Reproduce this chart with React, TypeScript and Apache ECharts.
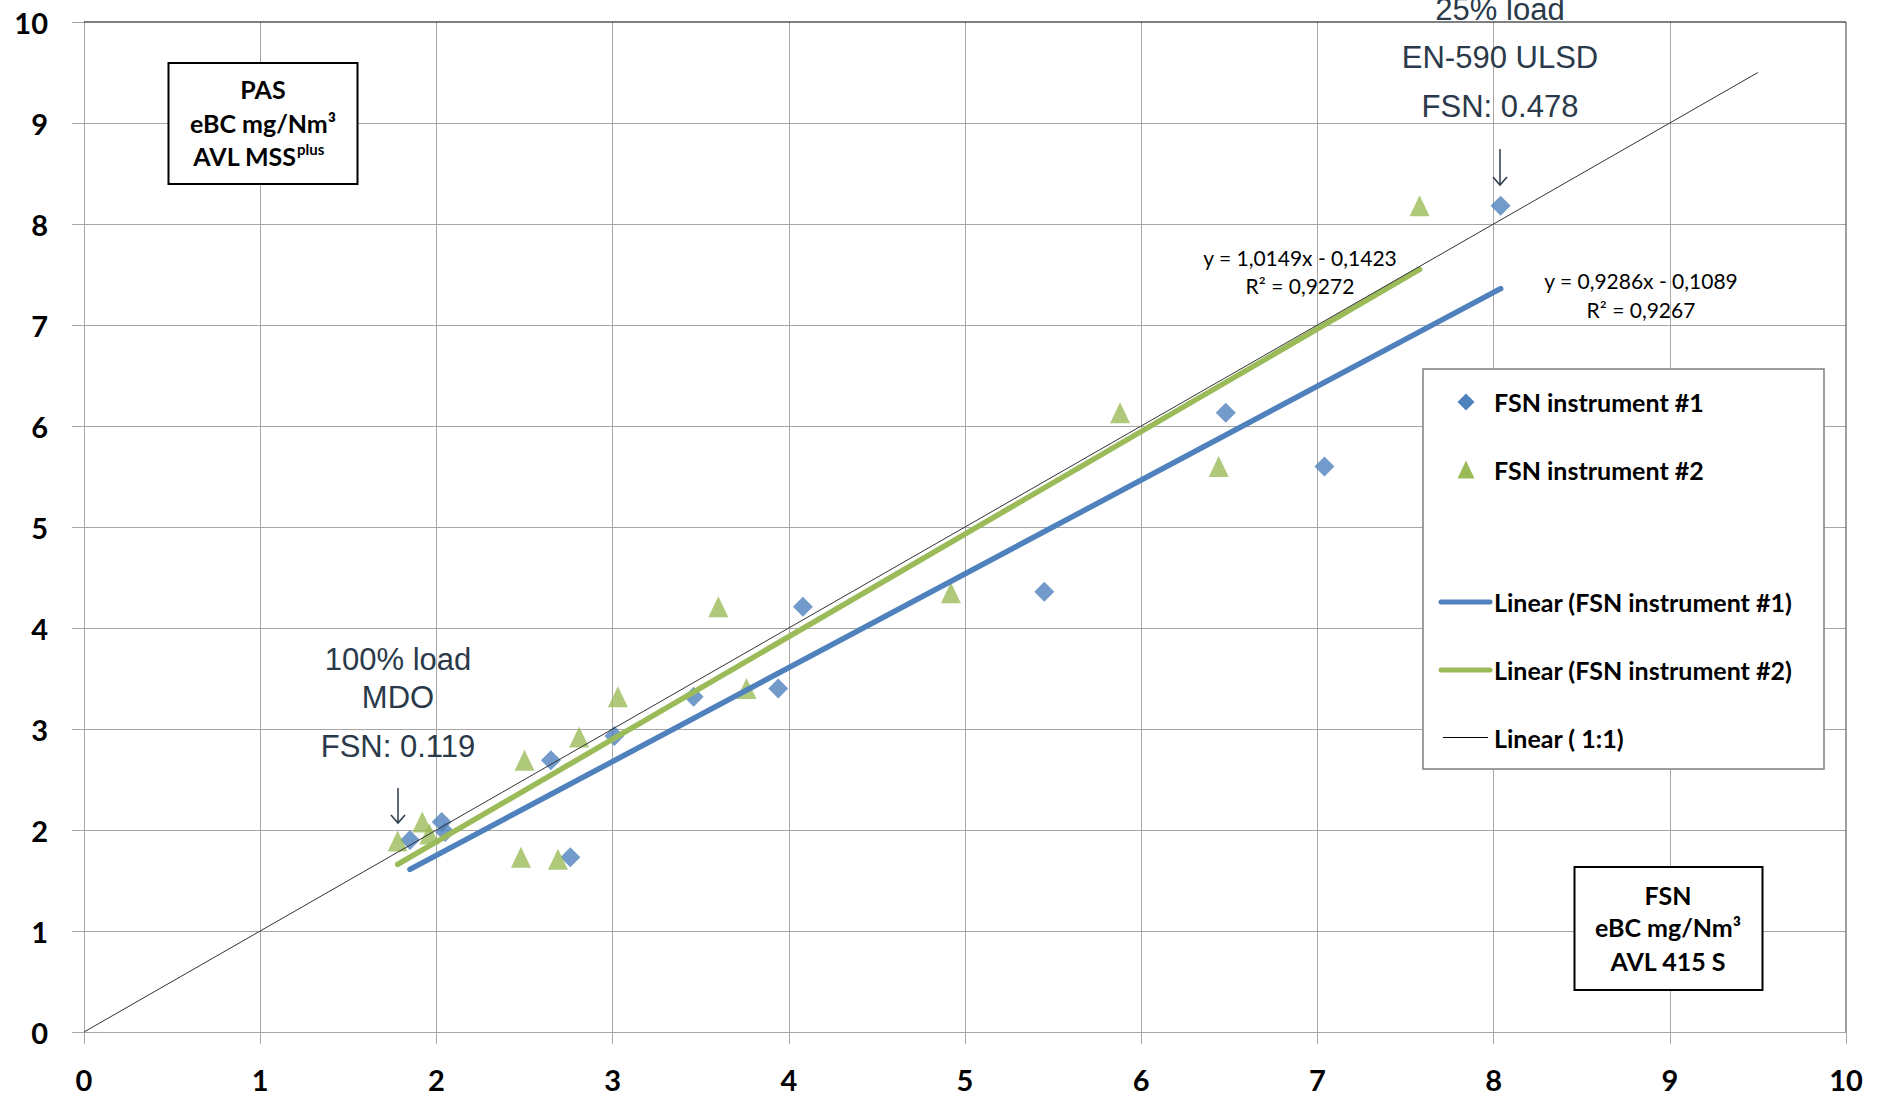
import React, { useEffect, useRef } from 'react';
import * as echarts from 'echarts';

// ---- data ----
const fsn1X = [1.85, 2.03, 2.05, 2.65, 2.76, 3.01, 3.46, 3.94, 4.08, 5.45, 6.48, 7.04, 8.04];
const fsn1Y = [1.90, 2.08, 1.98, 2.69, 1.73, 2.93, 3.32, 3.40, 4.21, 4.36, 6.13, 5.60, 8.18];
const fsn2X = [1.78, 1.92, 1.96, 2.48, 2.50, 2.69, 2.81, 3.03, 3.60, 3.76, 4.92, 5.88, 6.44, 7.58];
const fsn2Y = [1.89, 2.08, 1.96, 1.73, 2.69, 1.71, 2.92, 3.32, 4.21, 3.40, 4.35, 6.13, 5.60, 8.18];
const trend1X = [1.85, 8.04];
const trend1Y = [1.61, 7.36];
const trend2X = [1.78, 7.58];
const trend2Y = [1.66, 7.55];
const oneToOneX = [0, 9.5];
const oneToOneY = [0, 9.5];
const seriesNames = [
  'FSN instrument #1',
  'FSN instrument #2',
  'Linear (FSN instrument #1)',
  'Linear (FSN instrument #2)',
  'Linear ( 1:1)',
];
const eqBlue = ['y = 0,9286x - 0,1089', 'R² = 0,9267'];
const eqGreen = ['y = 1,0149x - 0,1423', 'R² = 0,9272'];
const noteTop = ['25% load', 'EN-590 ULSD', 'FSN: 0.478'];
const noteBottom = ['100% load', 'MDO', 'FSN: 0.119'];
const yBoxLines = ['PAS', 'eBC mg/Nm³', 'AVL MSS', 'plus'];
const xBoxLines = ['FSN', 'eBC mg/Nm³', 'AVL 415 S'];
const axisMin = 0;
const axisMax = 10;
const axisInterval = 1;

const BLUE = '#4F81BD';
const GREEN = '#9BBB59';
const NOTE = '#2b3a4a';
const GRID = '#a6a6a6';

const zip = (xs: number[], ys: number[]) => xs.map((x, i) => [x, ys[i]]);

function txt(x: number, y: number, text: string, font: string, align = 'center', fill = '#000') {
  return {
    type: 'text',
    x,
    y,
    z: 20,
    style: { text, font, fill, align, verticalAlign: 'middle' },
  };
}

function arrow(x: number, y1: number, y2: number) {
  return [
    { type: 'line', z: 20, shape: { x1: x, y1, x2: x, y2 }, style: { stroke: NOTE, lineWidth: 1.5 } },
    {
      type: 'polyline',
      z: 20,
      shape: { points: [[x - 7, y2 - 8], [x, y2], [x + 7, y2 - 8]] },
      style: { stroke: NOTE, lineWidth: 1.5, fill: 'none' },
    },
  ];
}

export default function App() {
  const ref = useRef<HTMLDivElement>(null);

  useEffect(() => {
    if (!ref.current) return;
    const chart = echarts.init(ref.current, undefined, { renderer: 'svg' });

    const noteFont = '31px "Liberation Sans", Arial, sans-serif';
    const boxFont = 'bold 25px Lato, "Liberation Sans", sans-serif';
    const eqFont = '21px Lato, "Liberation Sans", sans-serif';
    const legFont = 'bold 25px Lato, "Liberation Sans", sans-serif';

    const graphic: any[] = [
      // plot area border (top, right)
      { type: 'line', z: 20, shape: { x1: 84, y1: 22, x2: 1846, y2: 22 }, style: { stroke: '#000', lineWidth: 1 } },
      { type: 'line', z: 20, shape: { x1: 1846, y1: 22, x2: 1846, y2: 1032 }, style: { stroke: '#404040', lineWidth: 1 } },
      // y-axis title box
      {
        type: 'rect',
        z: 19,
        shape: { x: 168.5, y: 63, width: 189, height: 121 },
        style: { fill: '#fff', stroke: '#000', lineWidth: 2 },
      },
      txt(263, 89, yBoxLines[0], boxFont),
      txt(263, 123, yBoxLines[1], boxFont),
      txt(296, 156, yBoxLines[2], boxFont, 'right'),
      txt(297, 149, yBoxLines[3], 'bold 15px Lato, "Liberation Sans", sans-serif', 'left'),
      // x-axis title box
      {
        type: 'rect',
        z: 19,
        shape: { x: 1574.5, y: 867, width: 188, height: 123 },
        style: { fill: '#fff', stroke: '#000', lineWidth: 2 },
      },
      txt(1668, 895, xBoxLines[0], boxFont),
      txt(1668, 927, xBoxLines[1], boxFont),
      txt(1668, 961, xBoxLines[2], boxFont),
      // legend
      {
        type: 'rect',
        z: 19,
        shape: { x: 1423, y: 369, width: 401, height: 400 },
        style: { fill: '#fff', stroke: '#7f7f7f', lineWidth: 1.5 },
      },
      {
        type: 'polygon',
        z: 20,
        shape: { points: [[1466, 393.5], [1474.5, 402], [1466, 410.5], [1457.5, 402]] },
        style: { fill: BLUE },
      },
      {
        type: 'polygon',
        z: 20,
        shape: { points: [[1466, 460.5], [1474.5, 478.5], [1457.5, 478.5]] },
        style: { fill: GREEN },
      },
      { type: 'line', z: 20, shape: { x1: 1441, y1: 602, x2: 1490, y2: 602 }, style: { stroke: BLUE, lineWidth: 5, lineCap: 'round' } },
      { type: 'line', z: 20, shape: { x1: 1441, y1: 670, x2: 1490, y2: 670 }, style: { stroke: GREEN, lineWidth: 5, lineCap: 'round' } },
      { type: 'line', z: 20, shape: { x1: 1443, y1: 737.5, x2: 1488, y2: 737.5 }, style: { stroke: '#000', lineWidth: 1 } },
      txt(1494, 402, seriesNames[0], legFont, 'left'),
      txt(1494, 469.5, seriesNames[1], legFont, 'left'),
      txt(1494, 602, seriesNames[2], legFont, 'left'),
      txt(1494, 670, seriesNames[3], legFont, 'left'),
      txt(1494, 737.5, seriesNames[4], legFont, 'left'),
      // trendline equations
      txt(1300, 257, eqGreen[0], eqFont),
      txt(1300, 285, eqGreen[1], eqFont),
      txt(1641, 280, eqBlue[0], eqFont),
      txt(1641, 309, eqBlue[1], eqFont),
      // annotations
      txt(1500, 9, noteTop[0], noteFont, 'center', NOTE),
      txt(1500, 57.5, noteTop[1], noteFont, 'center', NOTE),
      txt(1500, 106.5, noteTop[2], noteFont, 'center', NOTE),
      ...arrow(1500, 149, 185),
      txt(398, 659, noteBottom[0], noteFont, 'center', NOTE),
      txt(398, 697.5, noteBottom[1], noteFont, 'center', NOTE),
      txt(398, 746, noteBottom[2], noteFont, 'center', NOTE),
      ...arrow(398, 788, 823),
    ];

    const labelCommon = {
      color: '#000',
      fontFamily: 'Lato, "Liberation Sans", sans-serif',
      fontWeight: 'bold',
      fontSize: 29,
      lineHeight: 29,
    };

    const axisCommon = {
      type: 'value',
      min: axisMin,
      max: axisMax,
      interval: axisInterval,
      axisLine: { show: true, lineStyle: { color: GRID, width: 1 } },
      axisTick: { show: true, length: 12, lineStyle: { color: GRID, width: 1 } },
      splitLine: { show: true, showMaxLine: false, lineStyle: { color: GRID, width: 1 } },
    };

    const option: any = {
      animation: false,
      backgroundColor: '#fff',
      grid: { left: 84, right: 31, top: 22, bottom: 65, containLabel: false },
      xAxis: { ...axisCommon, axisLabel: { ...labelCommon, margin: 33 } },
      yAxis: { ...axisCommon, axisLabel: { ...labelCommon, margin: 36 } },
      series: [
        {
          name: seriesNames[0],
          type: 'scatter',
          data: zip(fsn1X, fsn1Y),
          symbol: 'diamond',
          symbolSize: 20,
          itemStyle: { color: BLUE },
          z: 3,
        },
        {
          name: seriesNames[1],
          type: 'scatter',
          data: zip(fsn2X, fsn2Y),
          symbol: 'triangle',
          symbolSize: [20, 21],
          itemStyle: { color: GREEN },
          z: 4,
        },
        {
          name: seriesNames[2],
          type: 'line',
          data: zip(trend1X, trend1Y),
          showSymbol: false,
          symbol: 'none',
          lineStyle: { color: BLUE, width: 5.5, cap: 'round' },
          itemStyle: { color: BLUE },
          z: 5,
        },
        {
          name: seriesNames[3],
          type: 'line',
          data: zip(trend2X, trend2Y),
          showSymbol: false,
          symbol: 'none',
          lineStyle: { color: GREEN, width: 5.5, cap: 'round' },
          itemStyle: { color: GREEN },
          z: 5,
        },
        {
          name: seriesNames[4],
          type: 'line',
          data: zip(oneToOneX, oneToOneY),
          showSymbol: false,
          symbol: 'none',
          lineStyle: { color: '#333', width: 1 },
          itemStyle: { color: '#333' },
          z: 6,
        },
      ],
      graphic,
    };

    chart.setOption(option);
    return () => chart.dispose();
  }, []);

  return (
    <div
      ref={ref}
      style={{ position: 'absolute', left: 0, top: 0, width: 1877, height: 1097, background: '#fff' }}
    />
  );
}
